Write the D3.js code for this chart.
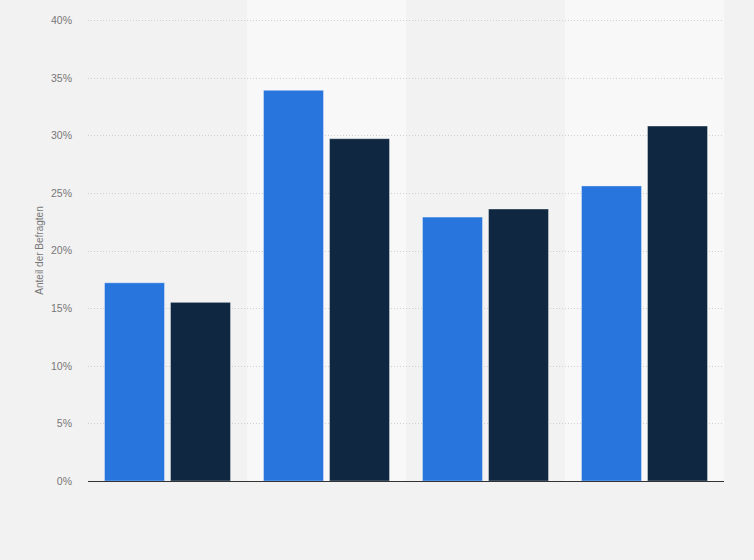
<!DOCTYPE html>
<html>
<head>
<meta charset="utf-8">
<script src="https://cdn.jsdelivr.net/npm/d3@7"></script>
<style>
  html, body { margin: 0; padding: 0; background: #f2f2f2; }
  svg { display: block; font-family: "Liberation Sans", Arial, sans-serif; }
</style>
</head>
<body>
<svg id="chart" width="754" height="560"></svg>
<script>
// Data
const categories = ["A", "B", "C", "D"];
const seriesNames = ["Serie 1", "Serie 2"];
const series1 = [17.2, 33.9, 22.9, 25.6];
const series2 = [15.5, 29.7, 23.6, 30.8];
const yTicks = [0, 5, 10, 15, 20, 25, 30, 35, 40];
const yLabel = "Anteil der Befragten";
const colors = ["#2876dd", "#0f2740"];

const svg = d3.select("#chart");
const margin = { left: 88, right: 30, top: 20, bottom: 79 };
const W = 754, H = 560;
const x0 = d3.scaleBand().domain(categories).range([margin.left, W - margin.right]).padding(0);
const x1 = d3.scaleBand().domain(seriesNames).range([0, x0.bandwidth()]).paddingInner(0.091).paddingOuter(0.25);
const y = d3.scaleLinear().domain([0, 40]).range([H - margin.bottom, margin.top]);

// alternating bands
svg.append("g").selectAll("rect").data(categories).join("rect")
  .attr("x", d => x0(d)).attr("y", 0)
  .attr("width", x0.bandwidth()).attr("height", y(0))
  .attr("fill", (d, i) => i % 2 === 1 ? "#f8f8f8" : "#f2f2f2");

// grid
svg.append("g").selectAll("line").data(yTicks.filter(t => t > 0)).join("line")
  .attr("x1", margin.left).attr("x2", W - margin.right)
  .attr("y1", d => Math.round(y(d)) + 0.5).attr("y2", d => Math.round(y(d)) + 0.5)
  .attr("stroke", "#cfcfcf").attr("stroke-width", 1).attr("stroke-dasharray", "1,2");

// y axis labels
const yAxis = d3.axisLeft(y).tickValues(yTicks).tickFormat(d => d + "%").tickSize(0).tickPadding(16);
const gy = svg.append("g").attr("transform", `translate(${margin.left},0)`).call(yAxis);
gy.select(".domain").remove();
gy.selectAll("text").attr("fill", "#777").style("font-size", "10.5px");

// bars
const data = categories.map((c, i) => ({ c, vals: [series1[i], series2[i]] }));
const groups = svg.append("g").selectAll("g").data(data).join("g")
  .attr("transform", d => `translate(${x0(d.c)},0)`);
groups.selectAll("rect").data(d => d.vals.map((v, j) => ({ v, s: seriesNames[j], j }))).join("rect")
  .attr("x", d => x1(d.s)).attr("y", d => y(d.v))
  .attr("width", x1.bandwidth()).attr("height", d => y(0) - y(d.v))
  .attr("fill", d => colors[d.j])
  .attr("stroke", "rgba(255,255,255,0.35)").attr("stroke-width", 1);

// baseline
svg.append("line")
  .attr("x1", margin.left).attr("x2", W - margin.right)
  .attr("y1", y(0) + 0.5).attr("y2", y(0) + 0.5)
  .attr("stroke", "#333").attr("stroke-width", 1);

// y axis title
svg.append("text")
  .attr("transform", `translate(43,${(y(0) + y(40)) / 2}) rotate(-90)`)
  .attr("text-anchor", "middle")
  .attr("fill", "#777").style("font-size", "10px")
  .text(yLabel);
</script>
</body>
</html>
